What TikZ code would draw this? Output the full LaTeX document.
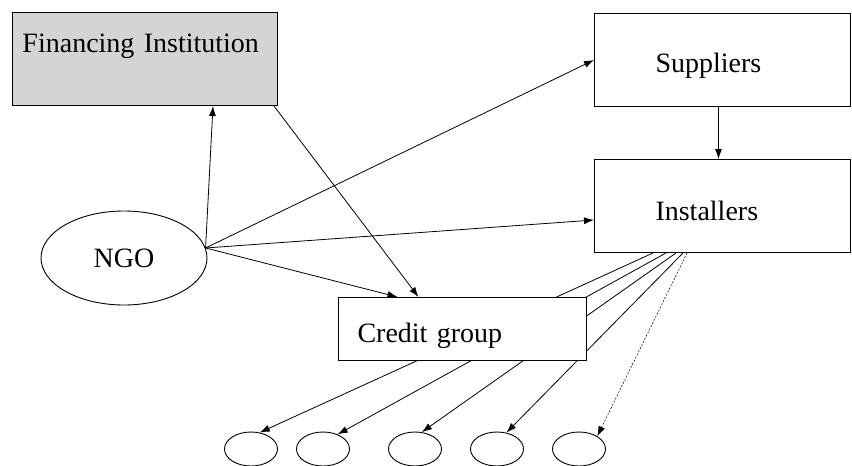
\documentclass[tikz,border=0pt]{standalone}
\usepackage{fontspec}
\setmainfont{Liberation Serif}
\usetikzlibrary{shapes.geometric,arrows.meta}

\begin{document}
\begin{tikzpicture}[x=1pt,y=-1pt,font=\fontsize{28}{32}\selectfont]
    % Setup the styles for the boxes, the ellipses and the arrows
    \tikzset{box style/.style={
        draw,
        rectangle,
        line width=1pt,
        inner ysep=0pt,
        anchor=north west,
        align=left},
      oval style/.style={
        draw,
        ellipse,
        line width=0.9pt,
        inner sep=0pt},
      link style/.style={
        ->,
        >={Latex[length=10pt,width=7pt]},
        line width=0.8pt}}
    \useasboundingbox (0,0) rectangle (852,466);

    % Draw the boxes and the ellipses
    \node[box style, fill=black!17, inner xsep=10pt, text width=245pt,
          text height=40pt, text depth=53pt] at (12, 12)   (fin)  {Financing Institution};
    \node[box style, inner xsep=61pt, text width=134pt,
          text height=59pt, text depth=34pt] at (594, 13)  (sup)  {Suppliers};
    \node[box style, inner xsep=61pt, text width=134pt,
          text height=61pt, text depth=32pt] at (594, 159) (inst) {Installers};
    \node[oval style, minimum width=166pt, minimum height=94pt] at (124, 258) (ngo) {NGO};
    \node[oval style, minimum width=53pt, minimum height=34pt] at (251, 449) (e1) {};
    \node[oval style, minimum width=53pt, minimum height=34pt] at (323, 449) (e2) {};
    \node[oval style, minimum width=53pt, minimum height=34pt] at (415, 449) (e3) {};
    \node[oval style, minimum width=53pt, minimum height=34pt] at (497, 449) (e4) {};
    \node[oval style, minimum width=53pt, minimum height=34pt] at (579, 449) (e5) {};

    % Installers to the households (behind the credit group)
    \draw[link style] ([xshift=59pt]inst.south west) -- (e1.62);
    \draw[link style] ([xshift=72pt]inst.south west) -- (e2.45);
    \draw[link style] ([xshift=82pt]inst.south west) -- (e3.68);
    \draw[link style] ([xshift=89pt]inst.south west) -- (e4.60);
    \draw[link style, line width=0.5pt, dash pattern=on 2pt off 1.5pt]
        ([xshift=93pt]inst.south west) -- (e5.35);

    \node[box style, fill=white, inner xsep=19pt, text width=210pt,
          text height=45pt, text depth=18pt] at (338, 297) (cg) {Credit group};

    % Connect the rest
    \draw[link style] (ngo.7) -- ([xshift=68pt]fin.south);
    \draw[link style] (ngo.7) -- (sup.west);
    \draw[link style] (ngo.7) -- ([yshift=-14pt]inst.west);
    \draw[link style] (ngo.7) -- ([xshift=-65pt]cg.north);
    \draw[link style] ([xshift=-4pt]fin.south east) -- ([xshift=-44pt]cg.north);
    \draw[link style] ([xshift=-4pt]sup.south) -- ([xshift=-4pt]inst.north);
\end{tikzpicture}
\end{document}
